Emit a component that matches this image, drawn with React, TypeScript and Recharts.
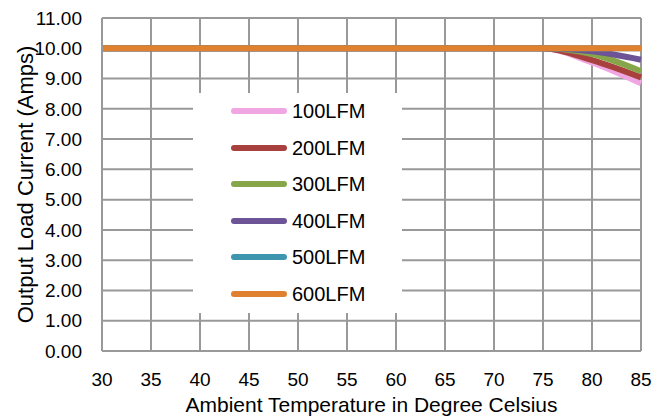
import React from 'react';
import { LineChart, Line, XAxis, YAxis, CartesianGrid } from 'recharts';

const temps = [30, 35, 40, 45, 50, 55, 60, 65, 70, 75, 80, 85];
const lfm100 = [10, 10, 10, 10, 10, 10, 10, 10, 10, 10, 9.53, 8.84];
const lfm200 = [10, 10, 10, 10, 10, 10, 10, 10, 10, 10, 9.61, 9.04];
const lfm300 = [10, 10, 10, 10, 10, 10, 10, 10, 10, 10, 9.81, 9.24];
const lfm400 = [10, 10, 10, 10, 10, 10, 10, 10, 10, 10, 9.9, 9.62];
const lfm500 = [10, 10, 10, 10, 10, 10, 10, 10, 10, 10, 10, 10];
const lfm600 = [10, 10, 10, 10, 10, 10, 10, 10, 10, 10, 10, 10];

const seriesNames = ['100LFM', '200LFM', '300LFM', '400LFM', '500LFM', '600LFM'];
const seriesValues = [lfm100, lfm200, lfm300, lfm400, lfm500, lfm600];
const COLORS = ['#F0A6E2', '#A8403E', '#87A64A', '#6C5496', '#3E96AE', '#E0812F'];
const yTicks = [0, 1, 2, 3, 4, 5, 6, 7, 8, 9, 10, 11];

const FONT = '"Liberation Sans", Arial, sans-serif';

const data = temps.map((t, i) => {
  const row: Record<string, number> = { temp: t };
  seriesNames.forEach((n, s) => { row[n] = seriesValues[s][i]; });
  return row;
});

// legend sits on top of the plot with a white box, like the excel one
const LegendBox = () => (
  <div style={{ position: 'absolute', left: 193, top: 93, width: 209, height: 220, background: '#fff' }}>
    {seriesNames.map((n, i) => (
      <div key={n} style={{ position: 'absolute', top: 18 + i * 36.5 - 12, left: 0, height: 24, display: 'flex', alignItems: 'center' }}>
        <div style={{ marginLeft: 38, width: 56, height: 6, borderRadius: 3, background: COLORS[i] }} />
        <span style={{ marginLeft: 5, fontFamily: FONT, fontSize: 20, color: '#000', lineHeight: '24px' }}>{n}</span>
      </div>
    ))}
  </div>
);

const App: React.FC = () => (
  <div style={{ position: 'absolute', left: 0, top: 0, width: 667, height: 417, background: '#fff' }}>
    <LineChart width={667} height={417} data={data} margin={{ top: 18, right: 26, bottom: 0, left: 0 }}>
      <CartesianGrid stroke="#999" strokeWidth={2} />
      <XAxis
        dataKey="temp"
        type="number"
        domain={[30, 85]}
        ticks={temps}
        height={66}
        tickSize={0}
        tickMargin={22}
        axisLine={{ stroke: '#999', strokeWidth: 2 }}
        tick={{ fill: '#000', fontSize: 19, fontFamily: FONT }}
        label={{ value: 'Ambient Temperature in Degree Celsius', position: 'insideBottom', offset: 5, fill: '#000', fontSize: 21, fontFamily: FONT }}
      />
      <YAxis
        domain={[0, 11]}
        ticks={yTicks}
        width={102}
        tickSize={0}
        tickMargin={20}
        interval={0}
        tickFormatter={(v: number) => v.toFixed(2)}
        axisLine={{ stroke: '#999', strokeWidth: 2 }}
        tick={{ fill: '#000', fontSize: 19, fontFamily: FONT }}
        label={{ value: 'Output Load Current (Amps)', angle: -90, position: 'insideLeft', offset: 25, fill: '#000', fontSize: 22, fontFamily: FONT, style: { textAnchor: 'middle' } }}
      />
      {seriesNames.map((n, i) => (
        <Line
          key={n}
          type="monotone"
          dataKey={n}
          stroke={COLORS[i]}
          strokeWidth={6}
          dot={false}
          isAnimationActive={false}
        />
      ))}
    </LineChart>
    <LegendBox />
  </div>
);

export default App;
